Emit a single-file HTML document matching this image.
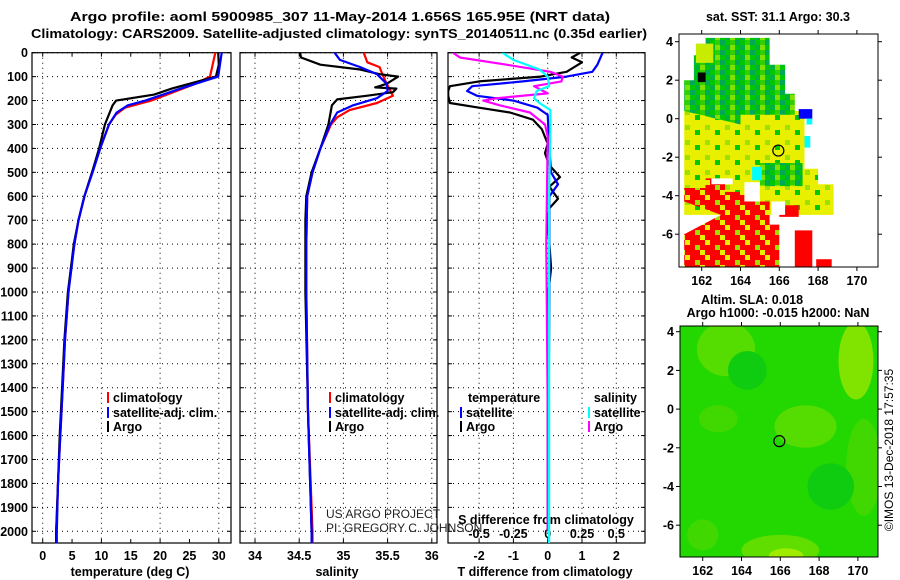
<!DOCTYPE html>
<html><head><meta charset="utf-8"><style>
html,body{margin:0;padding:0;background:#fff;}
svg{display:block;font-family:"Liberation Sans",sans-serif;}
.b{font-weight:bold;font-size:12.5px;}
</style></head><body>
<svg id="chart" width="900" height="580" viewBox="0 0 900 580">
<defs>
<pattern id="pg" width="15" height="10" patternUnits="userSpaceOnUse">
<rect width="15" height="10" fill="#00c800"/>
<rect x="0" y="0" width="5" height="5" fill="#00a858"/>
<rect x="10" y="5" width="5" height="5" fill="#80e000"/>
<rect x="5" y="5" width="5" height="5" fill="#00b040"/>
<rect x="10" y="0" width="5" height="5" fill="#30d000"/>
</pattern>
<pattern id="py" width="20" height="15" patternUnits="userSpaceOnUse">
<rect width="20" height="15" fill="#e8f000"/>
<rect x="5" y="5" width="5" height="5" fill="#a0e000"/>
<rect x="15" y="10" width="5" height="5" fill="#00c800"/>
</pattern>
<pattern id="pr" width="20" height="15" patternUnits="userSpaceOnUse">
<rect width="20" height="15" fill="#ff0000"/>
<rect x="5" y="0" width="5" height="5" fill="#e8f000"/>
<rect x="15" y="5" width="5" height="5" fill="#a0e000"/>
<rect x="0" y="10" width="5" height="5" fill="#e8f000"/>
</pattern>
</defs>
<rect width="900" height="580" fill="#fff"/>
<text x="340" y="21" text-anchor="middle" class="b" font-size="13" textLength="540" lengthAdjust="spacingAndGlyphs">Argo profile: aoml 5900985_307 11-May-2014 1.656S 165.95E (NRT data)</text>
<text x="339" y="38" text-anchor="middle" class="b" font-size="13" textLength="616" lengthAdjust="spacingAndGlyphs">Climatology: CARS2009. Satellite-adjusted climatology: synTS_20140511.nc (0.35d earlier)</text>
<g id="plots"></g>
<text x="778" y="21" text-anchor="middle" class="b">sat. SST: 31.1 Argo: 30.3</text>
<text x="752" y="304" text-anchor="middle" class="b">Altim. SLA: 0.018</text>
<text x="778" y="317" text-anchor="middle" class="b">Argo h1000: -0.015 h2000: NaN</text>
<text transform="translate(893,450) rotate(-90)" text-anchor="middle" font-size="12">©IMOS 13-Dec-2018 17:57:35</text>
<text x="326" y="518" font-size="12" fill="#222">US ARGO PROJECT</text>
<text x="326" y="532" font-size="12" fill="#222">PI: GREGORY C. JOHNSON</text>
</svg>
<script>
// ---- data ----
const depthTicks=[0,100,200,300,400,500,600,700,800,900,1000,1100,1200,1300,1400,1500,1600,1700,1800,1900,2000];
const tempTicks=[0,5,10,15,20,25,30];
const salTicks=[34,34.5,35,35.5,36];
const salTickLabels=["34","34.5","35","35.5","36"];
const tdiffTicks=[-2,-1,0,1,2];
const sdiffTicks=[-0.5,-0.25,0,0.25,0.5];
const sdiffTickLabels=["-0.5","-0.25","0","0.25","0.5"];

const tArgoD=[0,50,100,150,175,200,220,300,400,500,600,700,800,900,1000,1200,1400,1600,1800,2000,2050];
const tArgoV=[29.9,30,29.5,22,19,12.5,11.9,10.6,9.6,8.4,7.1,6.1,5.3,4.8,4.3,3.7,3.3,2.9,2.6,2.3,2.3];
const tSatD=[0,100,150,200,220,250,300,400,500,600,700,800,900,1000,1200,1400,1600,1800,2000,2050];
const tSatV=[30.5,29.9,23.5,17.5,14.5,12.6,11.3,9.8,8.5,7.1,6.1,5.4,4.9,4.4,3.8,3.4,3.0,2.6,2.4,2.4];
const tClimD=[0,100,130,200,230,260,300,400,500,600,700,800,900,1000,1200,1400,1600,1800,2000,2050];
const tClimV=[29.4,28.5,26,18.5,14,12.4,11.3,9.8,8.4,7.1,6.1,5.4,4.8,4.4,3.8,3.4,3.0,2.6,2.3,2.3];

const sArgoD=[0,20,50,70,90,100,130,145,150,165,180,195,220,300,400,500,600,700,1000,1500,2000,2050];
const sArgoV=[34.51,34.52,34.74,35.19,35.41,35.62,35.49,35.36,35.6,35.56,35.26,34.93,34.87,34.83,34.74,34.64,34.58,34.57,34.57,34.6,34.64,34.64];
const sSatD=[0,30,60,90,130,160,190,220,250,300,400,500,600,800,1000,1500,2000,2050];
const sSatV=[34.9,34.96,35.19,35.38,35.49,35.5,35.38,35.11,34.93,34.85,34.74,34.65,34.59,34.58,34.58,34.6,34.64,34.64];
const sClimD=[0,40,60,80,130,180,210,240,270,300,400,500,600,800,1000,1500,2000,2050];
const sClimV=[35.23,35.27,35.41,35.43,35.49,35.56,35.38,35.07,34.93,34.86,34.74,34.65,34.59,34.58,34.58,34.6,34.65,34.65];

const dtSatD=[0,50,80,100,120,140,160,180,200,230,260,400,500,550,600,800,1000,1500,1750];
const dtSatV=[1.6,1.45,1.3,0.55,-0.72,-2.2,-2.35,-2.06,-1.0,-0.3,0,0.05,0.1,0.3,0.05,0.05,0.05,0.03,0.0];
const dtArgoD=[0,20,40,80,100,120,140,160,180,210,230,250,280,320,380,420,470,520,560,610,650,700,900,1000,1500,2000];
const dtArgoV=[0.95,0.7,1.0,0.55,-0.2,-2,-2.85,-2.9,-2.9,-2.85,-2,-1.1,-0.43,-0.17,0,-0.08,0.05,0.36,0.05,0.3,0.05,0,0.1,0.02,0,0];
const dsArgoD=[0,20,50,80,100,120,140,170,190,200,220,250,300,350,800,1500,2000];
const dsArgoV=[-0.69,-0.64,-0.3,0.02,0.11,0.1,-0.1,0.0,-0.37,-0.47,-0.35,-0.13,-0.02,0,-0.01,0,0];
const dsSatD=[0,30,70,100,140,160,190,210,240,300,600,1000,1500,2050];
const dsSatV=[-0.33,-0.25,-0.06,0,0.01,-0.08,-0.1,-0.06,0.02,0.02,0.01,0.01,0.01,0.01];

// map data (lon/lat)
const mapLonTicks=[162,164,166,168,170];
const mapLatTicks=[4,2,0,-2,-4,-6];
const argoLon=165.95, argoLat=-1.656;
const sstRegions=[
 {c:"url(#py)",p:[[161.1,0.4],[167.3,0.4],[167.3,-2.6],[168.0,-2.6],[168.0,-3.4],[168.8,-3.4],[168.8,-5.0],[161.1,-5.0]]},
 {c:"url(#pg)",p:[[161.1,2.0],[161.6,2.0],[161.6,3.3],[162.2,3.3],[162.2,4.2],[165.5,4.2],[165.5,2.8],[166.3,2.8],[166.3,1.3],[166.8,1.3],[166.8,0.2],[164.0,0.2],[164.0,-0.3],[161.1,0.4]]},
 {c:"#c8ec00",p:[[161.7,3.9],[162.6,3.9],[162.6,2.9],[161.7,2.9]]},
 {c:"url(#pg)",p:[[165,-2.3],[167.2,-2.3],[167.2,-3.5],[165,-3.5]]},
 {c:"url(#pr)",p:[[161.1,-3.6],[162.2,-3.6],[162.2,-3.1],[163.2,-3.1],[163.2,-3.8],[164.2,-3.8],[164.2,-4.3],[165.5,-4.3],[165.5,-5.5],[166,-5.5],[166,-7.7],[161.1,-7.7],[161.1,-6.0],[163,-5.0],[161.1,-4.3]]},
 {c:"#ff0000",p:[[166.0,-4.5],[167.0,-4.5],[167.0,-5.1],[166.0,-5.1]]},
 {c:"#ff0000",p:[[166.8,-5.8],[167.7,-5.8],[167.7,-7.7],[166.8,-7.7]]},
 {c:"#ff0000",p:[[167.9,-7.3],[168.7,-7.3],[168.7,-7.7],[167.9,-7.7]]},
 {c:"#0000ff",p:[[167.0,0.5],[167.7,0.5],[167.7,0],[167.0,0]]},
 {c:"#00ffff",p:[[167.4,0],[167.7,0],[167.7,-0.3],[167.4,-0.3]]},
 {c:"#00ffff",p:[[167.3,-0.9],[167.6,-0.9],[167.6,-1.5],[167.3,-1.5]]},
 {c:"#00ffff",p:[[164.6,-2.5],[165.1,-2.5],[165.1,-3.2],[164.6,-3.2]]},
 {c:"#000000",p:[[161.8,2.4],[162.2,2.4],[162.2,1.9],[161.8,1.9]]},
 {c:"#ffffff",p:[[164.2,-3.3],[165.0,-3.3],[165.0,-4.3],[164.2,-4.3]]},
 {c:"#ffffff",p:[[165.6,-4.3],[166.3,-4.3],[166.3,-5.0],[165.6,-5.0]]},
 {c:"#ffffff",p:[[162.5,-3.1],[163.6,-3.1],[163.6,-3.4],[162.5,-3.4]]}
];
const slaBlobs=[
 {c:"#55dc00",lon:163.2,lat:3.1,rx:1.5,ry:1.4},
 {c:"#80e400",lon:169.9,lat:2.5,rx:0.9,ry:2.0},
 {c:"#55dc00",lon:167.3,lat:-0.9,rx:1.6,ry:1.1},
 {c:"#60de00",lon:166.0,lat:-7.3,rx:2.0,ry:0.8},
 {c:"#a0ec00",lon:166.3,lat:-7.6,rx:0.9,ry:0.4},
 {c:"#40d800",lon:170.3,lat:-3.0,rx:0.9,ry:2.5},
 {c:"#40d800",lon:162.8,lat:-0.5,rx:1.0,ry:0.7},
 {c:"#10cc10",lon:164.3,lat:2.0,rx:1.0,ry:1.0},
 {c:"#10cc10",lon:168.6,lat:-4.0,rx:1.2,ry:1.2},
 {c:"#40d800",lon:162.0,lat:-6.5,rx:0.8,ry:0.8}
];

const NS="http://www.w3.org/2000/svg";
const root=document.getElementById('plots');
function mk(tag,attrs,parent){const e=document.createElementNS(NS,tag);for(const k in attrs)e.setAttribute(k,attrs[k]);(parent||root).appendChild(e);return e;}
function txt(x,y,s,anchor,parent,extra){const e=mk('text',Object.assign({x:x,y:y,'text-anchor':anchor||'middle','class':'b'},extra||{}),parent);e.textContent=s;return e;}

const Y0=52.7, YS=0.2393, YB=543;
const yD=d=>Y0+d*YS;
const panels=[
 {name:'temperature',x0:32,x1:231,fx:v=>42.7+5.87*v},
 {name:'salinity',x0:240,x1:437,fx:v=>255+(v-34)*88.4},
 {name:'difference',x0:448,x1:645,fx:v=>547.7+34.3*v}
];
const fs=v=>547.7+137.2*v;

panels.forEach((p,i)=>{
 const g=mk('g',{});
 
 
 depthTicks.forEach(d=>{
  const l=mk('line',{x1:p.x0,x2:p.x1,y1:yD(d),y2:yD(d),stroke:'#000','stroke-dasharray':'1,4','stroke-width':1},g);
  
  
  mk('line',{x1:p.x0,x2:p.x0+4,y1:yD(d),y2:yD(d),stroke:'#000'},g);
  mk('line',{x1:p.x1-4,x2:p.x1,y1:yD(d),y2:yD(d),stroke:'#000'},g);
  if(i===0){const t=txt(28,yD(d)+4.5,String(d),'end',g);
   
   }
 });
 let vt = i===0?tempTicks.filter(v=>v%10===0):(i===1?salTicks:tdiffTicks);
 let f = p.fx;
 vt.forEach(v=>{
  const l=mk('line',{x1:f(v),x2:f(v),y1:Y0,y2:YB,stroke:'#000','stroke-dasharray':'1,4'},g);
  
  
 });
 const labs = i===0?tempTicks:(i===1?salTicks:tdiffTicks);
 labs.forEach((v,k)=>{
  mk('line',{x1:f(v),x2:f(v),y1:YB-4,y2:YB,stroke:'#000'},g);
  mk('line',{x1:f(v),x2:f(v),y1:Y0,y2:Y0+4,stroke:'#000'},g);
  const t=txt(f(v),560,i===1?salTickLabels[k]:String(v),'middle',g);
  
  
 });
 const fr=mk('rect',{x:p.x0,y:Y0,width:p.x1-p.x0,height:YB-Y0,fill:'none',stroke:'#000','stroke-width':1.2},g);
 
 
});
const xt1=txt(130,576,'temperature (deg C)','middle');


const xt2=txt(337,576,'salinity','middle');


const xt3=txt(545,576,'T difference from climatology','middle');


const xt4=txt(546,524,'S difference from climatology','middle');


sdiffTicks.forEach((v,k)=>{
 const t=txt(fs(v),538,sdiffTickLabels[k],'middle');
 
 
});

const clip=mk('clipPath',{id:'cp3'});mk('rect',{x:448,y:Y0,width:197,height:YB-Y0},clip);
function line(D,V,fx,color,name,clipped){
 let d='';for(let k=0;k<D.length;k++){d+=(k?'L':'M')+fx(V[k]).toFixed(1)+','+yD(Math.min(D[k],2060)).toFixed(1);}
 const e=mk('path',{d:d,fill:'none',stroke:color,'stroke-width':2.2,'stroke-linejoin':'round'});
 if(clipped)e.setAttribute('clip-path','url(#cp3)');
 
 
}
line(tClimD,tClimV,panels[0].fx,'#ff0000','temp-climatology-line');
line(tArgoD,tArgoV,panels[0].fx,'#000000','temp-argo-line');
line(tSatD,tSatV,panels[0].fx,'#0000ff','temp-satellite-line');
line(sClimD,sClimV,panels[1].fx,'#ff0000','sal-climatology-line');
line(sArgoD,sArgoV,panels[1].fx,'#000000','sal-argo-line');
line(sSatD,sSatV,panels[1].fx,'#0000ff','sal-satellite-line');
line(dtArgoD,dtArgoV,panels[2].fx,'#000000','tdiff-argo-line',true);
line(dtSatD,dtSatV,panels[2].fx,'#0000ff','tdiff-satellite-line',true);
line(dsArgoD,dsArgoV,fs,'#ff00ff','sdiff-argo-line',true);
line(dsSatD,dsSatV,fs,'#00ffff','sdiff-satellite-line',true);

function legend(x,y,color,label){
 const g=mk('g',{});
 
 
 mk('line',{x1:x,x2:x,y1:y-10,y2:y+1,stroke:color,'stroke-width':2},g);
 txt(x+5,y,label,'start',g);
}
legend(108,402,'#ff0000','climatology');
legend(108,417,'#0000ff','satellite-adj. clim.');
legend(108,431,'#000000','Argo');
legend(330,402,'#ff0000','climatology');
legend(330,417,'#0000ff','satellite-adj. clim.');
legend(330,431,'#000000','Argo');
const lt=txt(468,402,'temperature','start');
const ls=txt(637,402,'salinity','end');
legend(461,417,'#0000ff','satellite');
legend(461,431,'#000000','Argo');
legend(589,417,'#00ffff','satellite');
legend(589,431,'#ff00ff','Argo');

// maps
function map(x0,x1,y0,y1,lon162,lat4,sx,sy,name,draw){
 const fx=l=>lon162+(l-162)*sx, fy=l=>lat4+(4-l)*sy;
 const g=mk('g',{});
 
 
 const cid=name+'-clip';const c=mk('clipPath',{id:cid},g);mk('rect',{x:x0,y:y0,width:x1-x0,height:y1-y0},c);
 const inner=mk('g',{'clip-path':'url(#'+cid+')'},g);
 draw(inner,fx,fy,x0,x1,y0,y1);
 const ci=mk('circle',{cx:fx(argoLon),cy:fy(argoLat),r:5.5,fill:'none',stroke:'#000','stroke-width':1.2},g);
 
 
 mk('rect',{x:x0,y:y0,width:x1-x0,height:y1-y0,fill:'none',stroke:'#000','stroke-width':1},g);
 mapLonTicks.forEach(l=>{
  mk('line',{x1:fx(l),x2:fx(l),y1:y1,y2:y1+4,stroke:'#000'},g);
  mk('line',{x1:fx(l),x2:fx(l),y1:y0-4,y2:y0,stroke:'#000'},g);
  const t=txt(fx(l),y1+18,String(l),'middle',g);
  
  
 });
 mapLatTicks.forEach(l=>{
  mk('line',{x1:x0-4,x2:x0,y1:fy(l),y2:fy(l),stroke:'#000'},g);
  mk('line',{x1:x1,x2:x1+4,y1:fy(l),y2:fy(l),stroke:'#000'},g);
  const t=txt(x0-6,fy(l)+4.5,String(l),'end',g);
  
  
 });
}
map(679,878,34,267,701.7,41.7,19.4,19.25,'sst-map',(g,fx,fy)=>{
 sstRegions.forEach(r=>{
  const e=mk('polygon',{points:r.p.map(q=>fx(q[0]).toFixed(1)+','+fy(q[1]).toFixed(1)).join(' '),fill:r.c},g);
  
  
 });
});
map(680,878,326,557,702.7,331.7,19.4,19.35,'sla-map',(g,fx,fy,x0,x1,y0,y1)=>{
 mk('rect',{x:x0,y:y0,width:x1-x0,height:y1-y0,fill:'#22d800'},g);
 slaBlobs.forEach(b=>{
  const e=mk('ellipse',{cx:fx(b.lon),cy:fy(b.lat),rx:b.rx*19.4,ry:b.ry*19.35,fill:b.c},g);
  
  
 });
});
</script>
</body></html>
